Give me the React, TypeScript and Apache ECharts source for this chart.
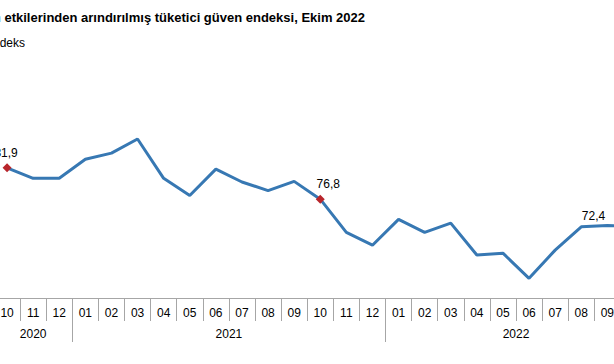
import React, { useEffect, useRef } from "react";
import * as echarts from "echarts";

const TITLE = "Mevsim ve takvim etkilerinden arındırılmış tüketici güven endeksi, Ekim 2022";
const UNIT = "Endeks";

const months = [
  "10", "11", "12",
  "01", "02", "03", "04", "05", "06", "07", "08", "09", "10", "11", "12",
  "01", "02", "03", "04", "05", "06", "07", "08", "09", "10",
];
const years = ["2020", "2021", "2022"];
const yearStart = [0, 3, 15];
const yearEnd = [2, 14, 24];
const values = [
  81.9, 80.2, 80.2,
  83.3, 84.3, 86.6, 80.2, 77.4, 81.7, 79.6, 78.2, 79.7, 76.8, 71.4, 69.3,
  73.5, 71.4, 72.9, 67.7, 68.0, 63.9, 68.5, 72.3, 72.5, 72.4,
];
const labelled = [0, 12, 24];

const FONT = "Liberation Sans, Arial, sans-serif";
const LINE = "#3778b3";
const RED = "#b8252b";
const GRAY = "#a6a6a6";

export default function App() {
  const ref = useRef<HTMLDivElement>(null);
  useEffect(() => {
    if (!ref.current) return;
    const chart = echarts.init(ref.current, undefined, { renderer: "svg" });
    const offsets: Record<number, number[]> = { 0: [-1, 0], 12: [8, -1], 24: [-40, 4] };
    const data = values.map((v, i) =>
      labelled.includes(i)
        ? {
            value: v,
            symbol: "diamond",
            symbolSize: 9,
            itemStyle: { color: RED },
            label: {
              show: true,
              position: "top",
              distance: 4,
              offset: offsets[i],
              formatter: v.toFixed(1).replace(".", ","),
              color: "#000",
              fontSize: 12,
              fontFamily: FONT,
            },
          }
        : v
    );
    chart.setOption({
      animation: false,
      grid: { left: 0, top: 50, width: 652.5, height: 248 },
      xAxis: [
        {
          type: "category",
          data: months,
          boundaryGap: true,
          axisLine: { show: true, lineStyle: { color: GRAY, width: 1 } },
          axisTick: { show: true, interval: 0, length: 23, lineStyle: { color: GRAY } },
          axisLabel: { interval: 0, margin: 9, color: "#000", fontSize: 12, fontFamily: FONT },
          splitLine: { show: false },
        },
        {
          type: "category",
          data: months,
          position: "bottom",
          boundaryGap: true,
          axisLine: { show: false },
          axisTick: {
            show: true,
            length: 44,
            interval: (i: number) => yearStart.includes(i) && i > 0,
            lineStyle: { color: GRAY },
          },
          axisLabel: { show: false },
          splitLine: { show: false },
        },
      ],
      yAxis: { type: "value", min: 60.7, max: 101.1, show: false, splitLine: { show: false } },
      series: [
        {
          type: "line",
          data,
          symbol: "none",
          showSymbol: true,
          lineStyle: { color: LINE, width: 3 },
          itemStyle: { color: LINE },
          z: 3,
        },
      ],
    });

    const yearTexts = years.map((y, k) => {
      const a = chart.convertToPixel({ xAxisIndex: 0 }, yearStart[k]) as number;
      const b = chart.convertToPixel({ xAxisIndex: 0 }, yearEnd[k]) as number;
      return {
        type: "text",
        x: (a + b) / 2,
        y: 334,
        style: {
          text: y,
          fill: "#000",
          font: `12px ${FONT}`,
          textAlign: "center",
          textVerticalAlign: "middle",
        },
      };
    });

    chart.setOption({
      graphic: [
        {
          type: "text",
          x: 371,
          y: 17,
          style: {
            text: TITLE,
            fill: "#000",
            font: `bold 13px ${FONT}`,
            textAlign: "right",
            textVerticalAlign: "middle",
          },
        },
        {
          type: "text",
          x: 31,
          y: 43,
          style: {
            text: UNIT,
            fill: "#000",
            font: `12px ${FONT}`,
            textAlign: "right",
            textVerticalAlign: "middle",
          },
        },
        ...yearTexts,
      ],
    });
    return () => chart.dispose();
  }, []);
  return (
    <div style={{ position: "fixed", left: 0, top: 0, width: 614, height: 364, overflow: "hidden", background: "#fff" }}>
      <div
        ref={ref}
        style={{ position: "absolute", left: -6, top: 0, width: 664, height: 364 }}
      />
    </div>
  );
}
